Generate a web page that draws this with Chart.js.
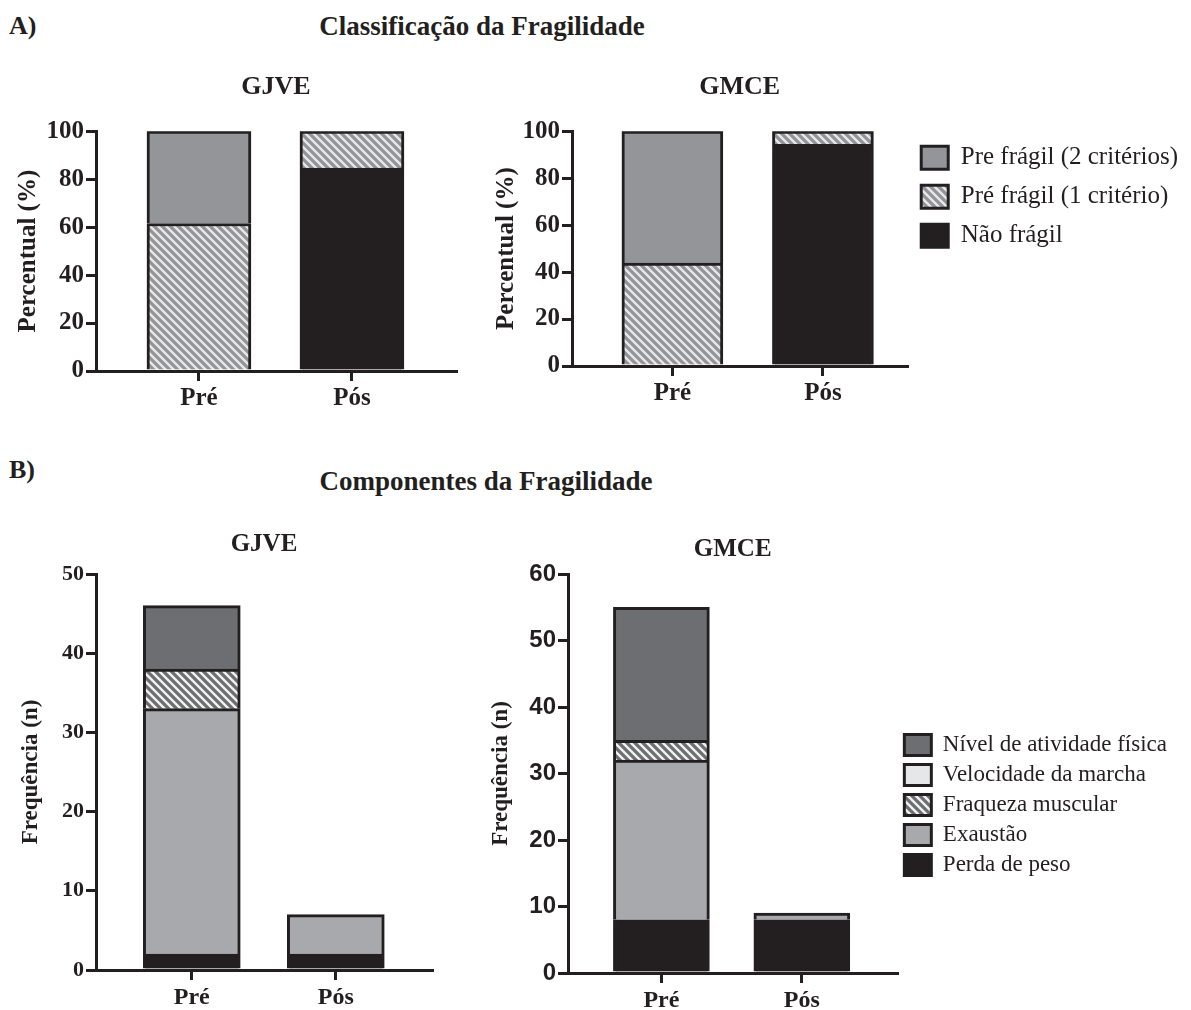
<!DOCTYPE html>
<html>
<head>
<meta charset="utf-8">
<script src="https://cdn.jsdelivr.net/npm/chart.js@4.4.1/dist/chart.umd.min.js"></script>
<style>
  html, body { margin: 0; padding: 0; background: #fff; }
  body { width: 1191px; height: 1010px; overflow: hidden; position: relative; }
  canvas { position: absolute; }
  .lbl { position: absolute; font-family: 'Liberation Serif', 'Times New Roman', serif;
         font-weight: bold; color: #231f20; white-space: nowrap; line-height: 1; }
  .mid { transform: translate(-50%, -50%); }
</style>
</head>
<body>
<div class="lbl" style="left:9px;top:13px;font-size:26px;">A)</div>
<div class="lbl mid" style="left:482px;top:26px;font-size:27px;">Classificação da Fragilidade</div>
<div class="lbl" style="left:9px;top:457px;font-size:26px;">B)</div>
<div class="lbl mid" style="left:486px;top:481px;font-size:27px;">Componentes da Fragilidade</div>

<canvas id="classGjve" width="470" height="360" style="left:0;top:60px"></canvas>
<canvas id="classGmce" width="708" height="360" style="left:480px;top:60px"></canvas>
<canvas id="compGjve" width="470" height="490" style="left:0;top:520px"></canvas>
<canvas id="compGmce" width="697" height="570" style="left:480px;top:520px"></canvas>

<script>
'use strict';
// categories on the x axis
var categories = ['Pré', 'Pós'];

// A) Classificação da Fragilidade, percent per group
var gjveNaoFragil = [0, 84.6];
var gjvePre1 = [61.5, 15.4];
var gjvePre2 = [38.5, 0];
var gmceNaoFragil = [0, 94.4];
var gmcePre1 = [43.8, 5.6];
var gmcePre2 = [56.2, 0];

// B) Componentes da Fragilidade, counts per group
var gjvePerda = [2, 2];
var gjveExaustao = [31, 5];
var gjveFraqueza = [5, 0];
var gjveVelocidade = [0, 0];
var gjveAtividade = [8, 0];
var gmcePerda = [8, 8];
var gmceExaustao = [24, 1];
var gmceFraqueza = [3, 0];
var gmceVelocidade = [0, 0];
var gmceAtividade = [20, 0];

var classLabels = ['Não frágil', 'Pré frágil (1 critério)', 'Pre frágil (2 critérios)'];
var compLabels = ['Perda de peso', 'Exaustão', 'Fraqueza muscular', 'Velocidade da marcha', 'Nível de atividade física'];

var ink = '#231f20';
var serif = "'Liberation Serif', 'Times New Roman', serif";
var sans = "'Liberation Sans', Arial, sans-serif";

function hatch (base, stripe) {
    var c = document.createElement('canvas');
    c.width = 8;
    c.height = 8;
    var g = c.getContext('2d');
    g.fillStyle = base;
    g.fillRect(0, 0, 8, 8);
    g.strokeStyle = stripe;
    g.lineWidth = 2.4;
    g.beginPath();
    g.moveTo(-2, -2); g.lineTo(10, 10);
    g.moveTo(-2, 6); g.lineTo(2, 10);
    g.moveTo(6, -2); g.lineTo(10, 2);
    g.stroke();
    return g.createPattern(c, 'repeat');
}

var lightHatch = hatch('#939498', '#e8e8ea');
var darkHatch = hatch('#6d6e71', '#f2f2f2');

function points (values) {
    return values.map(function (v, i) { return {x: i, y: v}; });
}

function series (label, values, fill, width) {
    return {
        label: label,
        data: points(values),
        backgroundColor: fill,
        borderColor: ink,
        borderWidth: 3,
        barThickness: width
    };
}

function panel (id, datasets, c) {
    return new Chart(document.getElementById(id), {
        type: 'bar',
        data: {datasets: datasets},
        options: {
            responsive: false,
            animation: false,
            layout: {padding: {left: 0, right: c.right, top: 0, bottom: 0}},
            plugins: {
                tooltip: {enabled: false},
                title: {
                    display: true,
                    text: c.title,
                    fullSize: false,
                    color: ink,
                    font: {family: serif, weight: 'bold', size: c.titleSize},
                    padding: {top: c.titleTop, bottom: c.titleBottom}
                },
                legend: c.legend || {display: false}
            },
            scales: {
                x: {
                    type: 'linear',
                    stacked: true,
                    offset: false,
                    min: c.xMin,
                    max: c.xMax,
                    afterBuildTicks: function (s) {
                        s.ticks = categories.map(function (n, i) { return {value: i}; });
                    },
                    afterFit: function (s) { s.height = c.xHeight; },
                    grid: {offset: false, drawOnChartArea: false, color: ink, lineWidth: 3, tickLength: 10},
                    border: {color: ink, width: 3},
                    ticks: {
                        autoSkip: false,
                        padding: 3,
                        color: ink,
                        font: {family: serif, weight: 'bold', size: c.xTickSize},
                        callback: function (v) { return categories[v]; }
                    }
                },
                y: {
                    stacked: true,
                    min: 0,
                    max: c.yMax,
                    afterFit: function (s) { s.width = c.yWidth; },
                    grid: {drawOnChartArea: false, color: ink, lineWidth: 3, tickLength: 10},
                    border: {color: ink, width: 3},
                    ticks: {
                        stepSize: c.yStep,
                        padding: 2,
                        color: ink,
                        font: {family: c.yTickFamily || serif, weight: 'bold', size: c.yTickSize}
                    },
                    title: {
                        display: true,
                        text: c.yTitle,
                        color: ink,
                        font: {family: serif, weight: 'bold', size: c.yTitleSize},
                        padding: {top: c.yTitlePad, bottom: 0}
                    }
                }
            }
        }
    });
}

function classSets (naoFragil, pre1, pre2, w) {
    return [
        series(classLabels[0], naoFragil, ink, w),
        series(classLabels[1], pre1, lightHatch, w),
        series(classLabels[2], pre2, '#939598', w)
    ];
}

function compSets (perda, exaustao, fraqueza, velocidade, atividade, w) {
    return [
        series(compLabels[0], perda, ink, w),
        series(compLabels[1], exaustao, '#a7a9ac', w),
        series(compLabels[2], fraqueza, darkHatch, w),
        series(compLabels[3], velocidade, '#e6e7e8', w),
        series(compLabels[4], atividade, '#6d6e71', w)
    ];
}

panel('classGjve', classSets(gjveNaoFragil, gjvePre1, gjvePre2, 104), {
    title: 'GJVE', titleSize: 26, titleTop: 12, titleBottom: 28,
    right: 14, xMin: -0.673, xMax: 1.68, xHeight: 49, xTickSize: 25,
    yMax: 100, yStep: 20, yWidth: 96, yTickSize: 25,
    yTitle: 'Percentual (%)', yTitleSize: 25, yTitlePad: 14
});

panel('classGmce', classSets(gmceNaoFragil, gmcePre1, gmcePre2, 101), {
    title: 'GMCE', titleSize: 26, titleTop: 12, titleBottom: 28,
    right: 0, xMin: -0.667, xMax: 1.56, xHeight: 54, xTickSize: 25,
    yMax: 100, yStep: 20, yWidth: 92, yTickSize: 25,
    yTitle: 'Percentual (%)', yTitleSize: 25, yTitlePad: 12,
    legend: {
        display: true, position: 'right', align: 'start', fullSize: false, reverse: true, maxWidth: 330,
        labels: {boxWidth: 27, boxHeight: 23, padding: 14, color: ink, font: {family: serif, size: 25}}
    }
});

panel('compGjve', compSets(gjvePerda, gjveExaustao, gjveFraqueza, gjveVelocidade, gjveAtividade, 97), {
    title: 'GJVE', titleSize: 25, titleTop: 10, titleBottom: 14,
    right: 38, xMin: -0.665, xMax: 1.668, xHeight: 40, xTickSize: 24,
    yMax: 50, yStep: 10, yWidth: 96, yTickSize: 22,
    yTitle: 'Frequência (n)', yTitleSize: 23, yTitlePad: 17
});

panel('compGmce', compSets(gmcePerda, gmceExaustao, gmceFraqueza, gmceVelocidade, gmceAtividade, 96), {
    title: 'GMCE', titleSize: 25, titleTop: 15, titleBottom: 9,
    right: 0, xMin: -0.665, xMax: 1.68, xHeight: 117, xTickSize: 24,
    yMax: 60, yStep: 10, yWidth: 88, yTickSize: 24, yTickFamily: sans,
    yTitle: 'Frequência (n)', yTitleSize: 23, yTitlePad: 7,
    legend: {
        display: true, position: 'right', align: 'center', fullSize: true, reverse: true, maxWidth: 330,
        labels: {boxWidth: 27, boxHeight: 21, padding: 7, color: ink, font: {family: serif, size: 23}}
    }
});
</script>
</body>
</html>
